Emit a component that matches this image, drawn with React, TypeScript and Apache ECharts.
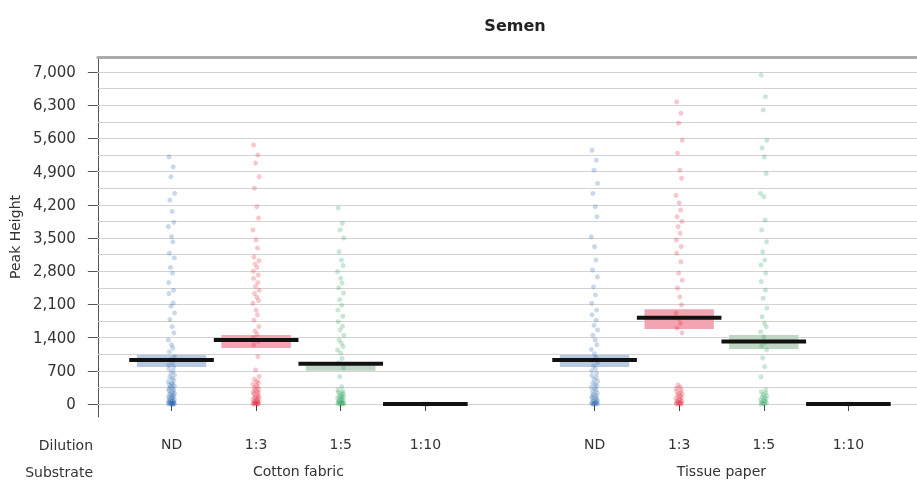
import React, { useEffect, useRef } from 'react';
import * as echarts from 'echarts';

const dilutions = ['ND', '1:3', '1:5', '1:10'];
const substrates = ['Cotton fabric', 'Tissue paper'];
const yTicks = [0, 700, 1400, 2100, 2800, 3500, 4200, 4900, 5600, 6300, 7000];
const gridValues = [0, 350, 700, 1050, 1400, 1750, 2100, 2450, 2800, 3150, 3500, 3850, 4200, 4550, 4900, 5250, 5600, 5950, 6300, 6650, 7000];

const cottonND = [5210, 5000, 4790, 4440, 4300, 4060, 3830, 3740, 3530, 3420, 3180, 3080, 2880, 2760, 2560, 2400, 2330, 2130, 2060, 1920, 1780, 1630, 1500, 1350, 1250, 1180, 1100, 1000, 940, 870, 820, 780, 740, 690, 650, 610, 570, 540, 500, 470, 440, 420, 400, 380, 360, 340, 320, 300, 280, 260, 240, 220, 200, 185, 170, 155, 140, 125, 110, 95, 80, 70, 60, 50, 40, 30, 22, 15, 10, 5, 0, 0, 0, 0];
const cotton13 = [5460, 5250, 5080, 4790, 4550, 4160, 3920, 3670, 3460, 3290, 3100, 3020, 2950, 2880, 2800, 2720, 2650, 2560, 2480, 2400, 2330, 2250, 2180, 2125, 1980, 1880, 1770, 1630, 1540, 1470, 1400, 1320, 1250, 1000, 720, 580, 520, 480, 450, 420, 390, 360, 340, 310, 290, 270, 250, 230, 210, 190, 170, 150, 135, 120, 105, 90, 75, 60, 50, 40, 30, 20, 12, 5, 0, 0, 0];
const cotton15 = [4130, 3810, 3670, 3500, 3210, 3035, 2920, 2790, 2650, 2550, 2450, 2340, 2200, 2080, 1980, 1850, 1735, 1640, 1560, 1450, 1350, 1280, 1210, 1140, 1075, 960, 865, 760, 576, 365, 300, 270, 250, 230, 210, 190, 170, 155, 140, 125, 110, 95, 80, 65, 50, 40, 30, 20, 10, 5, 0, 0];
const cotton110 = [0, 0, 0, 0];
const tissueND = [5350, 5140, 4930, 4650, 4440, 4160, 3950, 3525, 3315, 3035, 2825, 2680, 2470, 2300, 2125, 1980, 1880, 1770, 1660, 1560, 1450, 1350, 1250, 1150, 1060, 980, 920, 865, 800, 750, 700, 650, 600, 560, 520, 480, 440, 410, 380, 350, 320, 290, 260, 230, 200, 180, 160, 140, 120, 100, 85, 70, 55, 40, 30, 20, 10, 5, 0, 0, 0];
const tissue13 = [6370, 6130, 5920, 5560, 5290, 4930, 4760, 4400, 4240, 4090, 3950, 3850, 3740, 3600, 3460, 3320, 3180, 3000, 2760, 2610, 2445, 2260, 2090, 1915, 1800, 1700, 1600, 1500, 400, 360, 330, 300, 270, 245, 220, 200, 180, 160, 140, 120, 100, 85, 70, 55, 40, 30, 20, 10, 5, 0, 0];
const tissue15 = [6935, 6480, 6200, 5560, 5400, 5210, 4860, 4440, 4370, 3880, 3670, 3420, 3210, 3035, 2930, 2760, 2580, 2400, 2230, 2020, 1840, 1700, 1630, 1520, 1420, 1300, 1220, 1140, 970, 790, 575, 300, 260, 230, 200, 175, 150, 130, 110, 90, 70, 55, 40, 25, 12, 0, 0];
const tissue110 = [0, 0, 0, 0];

const cottonMeans = [930, 1350, 850, 0];
const cottonLow = [780, 1180, 700, 0];
const cottonHigh = [1035, 1455, 880, 0];
const tissueMeans = [930, 1820, 1320, 0];
const tissueLow = [780, 1580, 1160, 0];
const tissueHigh = [1035, 2000, 1455, 0];

const pointsTable = [
  [cottonND, cotton13, cotton15, cotton110],
  [tissueND, tissue13, tissue15, tissue110],
];
const meansTable = [cottonMeans, tissueMeans];
const lowTable = [cottonLow, tissueLow];
const highTable = [cottonHigh, tissueHigh];

// styles
const pointColors = ['rgba(31,93,168,0.3)', 'rgba(227,26,45,0.3)', 'rgba(27,154,74,0.3)', 'rgba(120,120,120,0.3)'];
const boxColors = ['#b9c9e1', '#f2a5b0', '#bfd6c4', '#cccccc'];
const JITTER = [-0.03, 0.02, -0.007, 0.036, -0.02, 0.008, 0.028, -0.038, 0.0, 0.016, -0.025, 0.033, -0.013, 0.011, -0.033, 0.024];
const FONT = 'DejaVu Sans';

const positions: number[] = [];
substrates.forEach((_, si) => dilutions.forEach((__, di) => positions.push(si * 5 + di + 1)));

export default function App() {
  const ref = useRef<HTMLDivElement>(null);
  useEffect(() => {
    if (!ref.current) return;
    const chart = echarts.init(ref.current, null, { renderer: 'svg' });

    const boxData: number[][] = [];
    const meanData: number[][] = [];
    const scatterSeries: any[] = [];
    substrates.forEach((_, si) => {
      dilutions.forEach((__, di) => {
        const x = si * 5 + di + 1;
        boxData.push([x, lowTable[si][di], highTable[si][di], di]);
        meanData.push([x, meansTable[si][di]]);
        scatterSeries.push({
          type: 'scatter',
          z: 4,
          symbolSize: 5,
          itemStyle: { color: pointColors[di] },
          data: pointsTable[si][di].map((v, i) => [x + JITTER[i % JITTER.length], v]),
        });
      });
    });

    const xMin = 0.129;
    const xMax = 9.811;

    chart.setOption({
      animation: false,
      title: {
        text: 'Semen',
        left: 510,
        top: 12,
        textAlign: 'center',
        textStyle: { fontFamily: FONT, fontSize: 16, fontWeight: 'bold', color: '#222' },
      },
      grid: { left: 94, right: 0, top: 57, bottom: 69 },
      xAxis: [
        {
          type: 'value',
          min: xMin,
          max: xMax,
          position: 'bottom',
          axisLine: { lineStyle: { color: '#444', width: 1 } },
          axisTick: { show: true, customValues: positions, length: 7, lineStyle: { color: '#444' } },
          axisLabel: {
            customValues: positions,
            formatter: (v: number) => dilutions[(Math.round(v) - 1) % 5],
            margin: 20,
            fontFamily: FONT,
            fontSize: 14,
            color: '#333',
          },
          splitLine: { show: false },
        },
        {
          type: 'value',
          min: xMin,
          max: xMax,
          position: 'bottom',
          offset: 27,
          axisLine: { show: false },
          axisTick: { show: false },
          axisLabel: {
            customValues: substrates.map((_, si) => si * 5 + 2.5),
            formatter: (v: number) => substrates[Math.round((v - 2.5) / 5)],
            margin: 20,
            fontFamily: FONT,
            fontSize: 14,
            color: '#333',
          },
          splitLine: { show: false },
        },
        {
          type: 'value',
          min: xMin,
          max: xMax,
          position: 'top',
          axisLine: { show: true, lineStyle: { color: '#ababab', width: 3 } },
          axisTick: { show: false },
          axisLabel: { show: false },
          splitLine: { show: false },
        },
      ],
      yAxis: {
        type: 'value',
        min: -274,
        max: 7316,
        name: 'Peak Height',
        nameLocation: 'middle',
        nameGap: 74,
        nameTextStyle: { fontFamily: FONT, fontSize: 14, color: '#333' },
        axisLine: { show: true, lineStyle: { color: '#555' } },
        axisTick: { show: true, customValues: yTicks, length: 10, lineStyle: { color: '#555' } },
        axisLabel: {
          customValues: yTicks,
          formatter: (v: number) => v.toLocaleString('en-US'),
          margin: 22,
          fontFamily: FONT,
          fontSize: 15,
          color: '#333',
        },
        splitLine: { show: false },
      },
      graphic: [
        { type: 'text', right: 917 - 93, top: 438, style: { text: 'Dilution', font: `14px "${FONT}"`, fill: '#333', textAlign: 'right' } },
        { type: 'text', right: 917 - 93, top: 465, style: { text: 'Substrate', font: `14px "${FONT}"`, fill: '#333', textAlign: 'right' } },
      ],
      series: [
        {
          type: 'custom',
          z: 3,
          xAxisIndex: 0,
          encode: { x: 0, y: [1, 2] },
          data: boxData,
          renderItem: (params: any, api: any) => {
            const x = api.value(0);
            const lo = api.value(1);
            const hi = api.value(2);
            const di = api.value(3);
            if (hi <= lo) return { type: 'group', children: [] };
            const p1 = api.coord([x - 0.41, hi]);
            const p2 = api.coord([x + 0.41, lo]);
            return {
              type: 'rect',
              shape: { x: p1[0], y: p1[1], width: p2[0] - p1[0], height: p2[1] - p1[1] },
              style: { fill: boxColors[di] },
            };
          },
          markLine: {
            z: 1,
            silent: true,
            symbol: 'none',
            label: { show: false },
            lineStyle: { color: '#d2d2d2', width: 1, type: 'solid' },
            data: gridValues.map((v) => ({ yAxis: v })),
          },
        },
        ...scatterSeries,
        {
          type: 'custom',
          z: 5,
          xAxisIndex: 0,
          encode: { x: 0, y: 1 },
          data: meanData,
          renderItem: (params: any, api: any) => {
            const x = api.value(0);
            const m = api.value(1);
            const p1 = api.coord([x - 0.5, m]);
            const p2 = api.coord([x + 0.5, m]);
            return {
              type: 'rect',
              shape: { x: p1[0], y: p1[1] - 2, width: p2[0] - p1[0], height: 4 },
              style: { fill: '#111' },
            };
          },
        },
      ],
    });
    return () => chart.dispose();
  }, []);
  return <div ref={ref} style={{ position: 'fixed', left: 0, top: 0, width: 917, height: 486 }} />;
}
